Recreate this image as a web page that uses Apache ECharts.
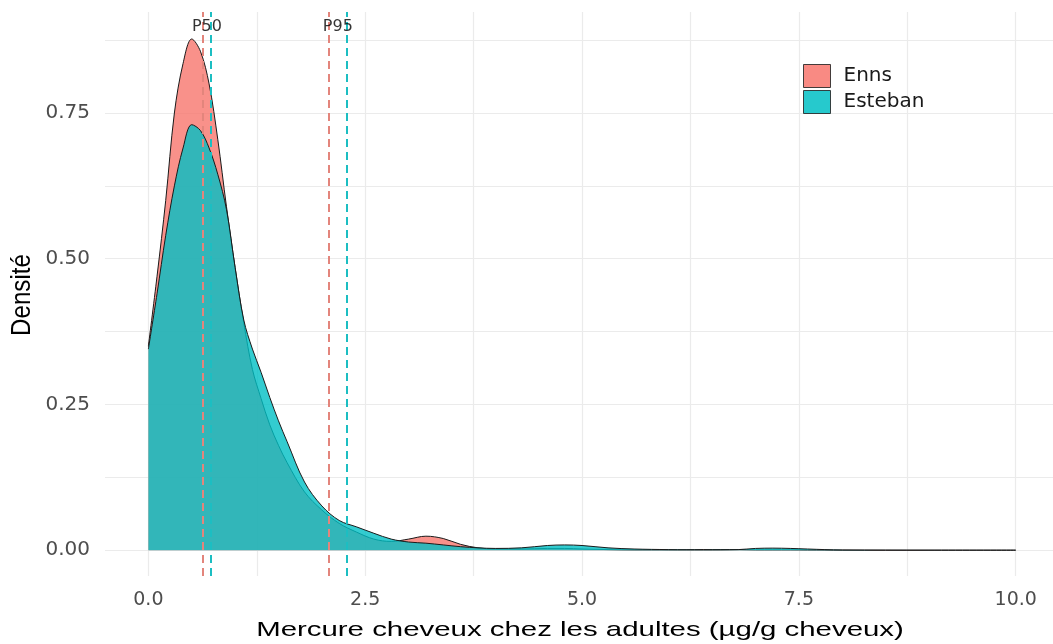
<!DOCTYPE html>
<html><head><meta charset="utf-8">
<script src="https://cdn.jsdelivr.net/npm/echarts@6/dist/echarts.min.js"></script>
<style>html,body{margin:0;padding:0;background:#fff}#c{width:1053px;height:644px}</style>
</head><body><div id="c"></div>
<script>
// ---- data ----
const xs = [0, 0.1, 0.2, 0.3, 0.4, 0.5, 0.6, 0.7, 0.8, 0.9, 1.0, 1.1, 1.2, 1.3, 1.4, 1.5, 1.6, 1.8, 2.0, 2.2, 2.4, 2.6, 2.8, 3.0, 3.2, 3.4, 3.6, 3.8, 4.0, 4.3, 4.6, 4.8, 5.0, 5.3, 5.6, 6.0, 6.4, 6.8, 7.0, 7.2, 7.4, 7.6, 7.8, 8.0, 9.0, 10.0];
const ennsDensity = [0.35, 0.47, 0.60, 0.75, 0.835, 0.877, 0.856, 0.80, 0.705, 0.59, 0.485, 0.39, 0.31, 0.26, 0.215, 0.18, 0.15, 0.10, 0.069, 0.046, 0.031, 0.019, 0.015, 0.019, 0.024, 0.020, 0.010, 0.004, 0.002, 0.002, 0.003, 0.003, 0.002, 0.001, 0.0005, 0.0005, 0.001, 0.001, 0.0005, 0.0005, 0.0005, 0.0003, 0.0002, 0.0001, 0, 0];
const estebanDensity = [0.345, 0.44, 0.54, 0.625, 0.69, 0.73, 0.72, 0.69, 0.645, 0.585, 0.485, 0.395, 0.345, 0.305, 0.262, 0.222, 0.186, 0.117, 0.076, 0.051, 0.040, 0.029, 0.019, 0.014, 0.012, 0.009, 0.006, 0.004, 0.003, 0.004, 0.008, 0.009, 0.008, 0.004, 0.002, 0.001, 0.0005, 0.001, 0.003, 0.0035, 0.003, 0.002, 0.001, 0.0003, 0, 0];
const groups = ['Enns', 'Esteban'];
const p50 = [0.634, 0.716];   // Enns, Esteban
const p95 = [2.076, 2.293];   // Enns, Esteban
const percentileNames = ['P50', 'P95'];
const xTickLabels = [0, 2.5, 5, 7.5, 10];
const xGridValues = [0, 1.25, 2.5, 3.75, 5, 6.25, 7.5, 8.75, 10];
const yTickLabels = [0, 0.25, 0.5, 0.75];
const yGridValues = [0, 0.125, 0.25, 0.375, 0.5, 0.625, 0.75, 0.875];
const xTitle = 'Mercure cheveux chez les adultes (µg/g cheveux)';
const yTitle = 'Densité';

// ---- style ----
const fillColors = ['#F8766D', '#00BFC4'];
const vlineColors = ['#E3857C', '#1CBEC2'];
const tickFont = 'DejaVu Sans';

const chart = echarts.init(document.getElementById('c'), null, {renderer: 'canvas'});

const pctLines = [];
[p50, p95].forEach(arr => arr.forEach((v, i) => {
  pctLines.push({xAxis: v, lineStyle: {color: vlineColors[i], type: [8, 5], width: 2}});
}));
const pctLabels = [p50, p95].map((arr, k) => [(arr[0] + arr[1]) / 2, 0.898, percentileNames[k]]);

const option = {
  animation: false,
  backgroundColor: '#fff',
  grid: {left: 105, right: 0, top: 12, bottom: 68, containLabel: false, outerBoundsMode: 'none'},
  xAxis: {
    type: 'value', min: -0.5, max: 10.43,
    axisLine: {show: false},
    axisTick: {show: false, customValues: xGridValues},
    axisLabel: {customValues: xTickLabels, formatter: v => v.toFixed(1), fontFamily: tickFont, fontSize: 19, color: '#4D4D4D', margin: 15},
    splitLine: {show: true, lineStyle: {color: '#EBEBEB', width: 1.2}}
  },
  yAxis: {
    type: 'value', min: -0.0443, max: 0.9233,
    axisLine: {show: false},
    axisTick: {show: false, customValues: yGridValues},
    axisLabel: {customValues: yTickLabels, formatter: v => v.toFixed(2), fontFamily: tickFont, fontSize: 20, color: '#4D4D4D', margin: 15},
    splitLine: {show: true, lineStyle: {color: '#EBEBEB', width: 1.2}}
  },
  legend: {
    orient: 'vertical', left: 803, top: 64, itemWidth: 27, itemHeight: 23, itemGap: 2, padding: 0,
    selectedMode: false,
    textStyle: {fontFamily: tickFont, fontSize: 20, color: '#1a1a1a', padding: [0, 0, 0, 8]},
    data: groups.map((g, i) => ({name: g, icon: 'rect', itemStyle: {color: fillColors[i], opacity: 0.85, borderColor: '#222', borderWidth: 1}}))
  },
  graphic: [
    {type: 'text', x: 580, y: 630, scaleX: 1.4, z: 10,
     style: {text: xTitle, fontFamily: 'Liberation Sans', fontSize: 21, fill: '#000', align: 'center', verticalAlign: 'middle'}},
    {type: 'text', x: 22, y: 295, rotation: Math.PI / 2, scaleX: 1.15, scaleY: 1.35, z: 10,
     style: {text: yTitle, fontFamily: 'Liberation Sans', fontSize: 21, fill: '#000', align: 'center', verticalAlign: 'middle'}}
  ],
  series: [
    ...groups.map((g, i) => ({
      name: g, type: 'line', z: 2 + i,
      data: xs.map((x, j) => [x, (i === 0 ? ennsDensity : estebanDensity)[j]]),
      smooth: 0.35, showSymbol: false, symbol: 'none',
      lineStyle: {color: '#1a1a1a', width: 1},
      itemStyle: {color: fillColors[i]},
      areaStyle: {color: fillColors[i], opacity: 0.8},
      emphasis: {disabled: true}
    })),
    {type: 'line', data: [], z: 5, silent: true,
     markLine: {silent: true, symbol: ['none', 'none'], label: {show: false}, data: pctLines}},
    {type: 'scatter', z: 6, silent: true, symbolSize: 0, data: pctLabels,
     label: {show: true, position: 'inside', formatter: p => p.data[2], fontFamily: tickFont, fontSize: 16, color: '#000'}}
  ]
};
chart.setOption(option);
</script>
</body></html>
